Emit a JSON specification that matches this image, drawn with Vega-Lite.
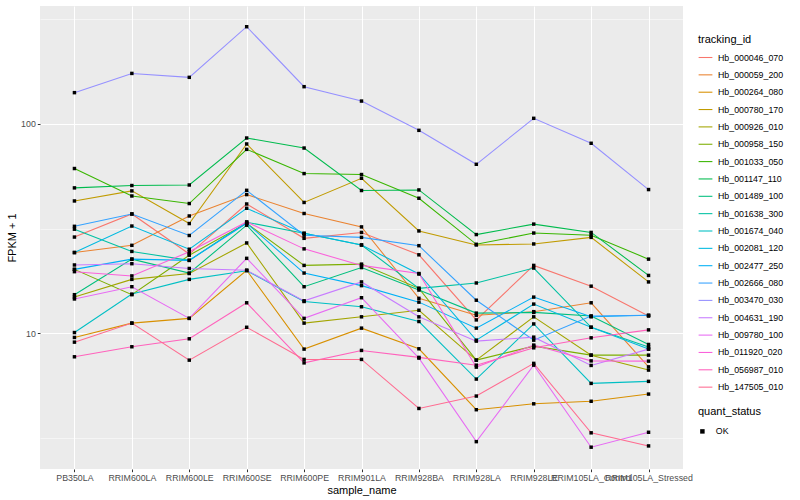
{
"$schema": "https://vega.github.io/schema/vega-lite/v6.json",
"width": 643, "height": 463,
"autosize": {"type": "none"},
"padding": {"left": 40, "top": 6, "right": 117, "bottom": 31},
"background": "white",
"config": {"view": {"fill": "#EBEBEB", "stroke": null}, "font": "Liberation Sans"},
"datasets": {"d": [
{"tracking_id":"Hb_000046_070","sample_name":"PB350LA","fpkm":28.8,"quant_status":"OK"},
{"tracking_id":"Hb_000046_070","sample_name":"RRIM600LA","fpkm":37.1,"quant_status":"OK"},
{"tracking_id":"Hb_000046_070","sample_name":"RRIM600LE","fpkm":23.9,"quant_status":"OK"},
{"tracking_id":"Hb_000046_070","sample_name":"RRIM600SE","fpkm":41.4,"quant_status":"OK"},
{"tracking_id":"Hb_000046_070","sample_name":"RRIM600PE","fpkm":28.4,"quant_status":"OK"},
{"tracking_id":"Hb_000046_070","sample_name":"RRIM901LA","fpkm":30.3,"quant_status":"OK"},
{"tracking_id":"Hb_000046_070","sample_name":"RRIM928BA","fpkm":23.7,"quant_status":"OK"},
{"tracking_id":"Hb_000046_070","sample_name":"RRIM928LA","fpkm":11.6,"quant_status":"OK"},
{"tracking_id":"Hb_000046_070","sample_name":"RRIM928LE","fpkm":21.1,"quant_status":"OK"},
{"tracking_id":"Hb_000046_070","sample_name":"RRIM105LA_Control","fpkm":16.8,"quant_status":"OK"},
{"tracking_id":"Hb_000046_070","sample_name":"RRIM105LA_Stressed","fpkm":12.1,"quant_status":"OK"},
{"tracking_id":"Hb_000059_200","sample_name":"PB350LA","fpkm":24.3,"quant_status":"OK"},
{"tracking_id":"Hb_000059_200","sample_name":"RRIM600LA","fpkm":26.3,"quant_status":"OK"},
{"tracking_id":"Hb_000059_200","sample_name":"RRIM600LE","fpkm":36.3,"quant_status":"OK"},
{"tracking_id":"Hb_000059_200","sample_name":"RRIM600SE","fpkm":45.9,"quant_status":"OK"},
{"tracking_id":"Hb_000059_200","sample_name":"RRIM600PE","fpkm":37.3,"quant_status":"OK"},
{"tracking_id":"Hb_000059_200","sample_name":"RRIM901LA","fpkm":32.2,"quant_status":"OK"},
{"tracking_id":"Hb_000059_200","sample_name":"RRIM928BA","fpkm":14.7,"quant_status":"OK"},
{"tracking_id":"Hb_000059_200","sample_name":"RRIM928LA","fpkm":12.2,"quant_status":"OK"},
{"tracking_id":"Hb_000059_200","sample_name":"RRIM928LE","fpkm":12.7,"quant_status":"OK"},
{"tracking_id":"Hb_000059_200","sample_name":"RRIM105LA_Control","fpkm":14.0,"quant_status":"OK"},
{"tracking_id":"Hb_000059_200","sample_name":"RRIM105LA_Stressed","fpkm":6.93,"quant_status":"OK"},
{"tracking_id":"Hb_000264_080","sample_name":"PB350LA","fpkm":9.57,"quant_status":"OK"},
{"tracking_id":"Hb_000264_080","sample_name":"RRIM600LA","fpkm":11.2,"quant_status":"OK"},
{"tracking_id":"Hb_000264_080","sample_name":"RRIM600LE","fpkm":11.8,"quant_status":"OK"},
{"tracking_id":"Hb_000264_080","sample_name":"RRIM600SE","fpkm":20.0,"quant_status":"OK"},
{"tracking_id":"Hb_000264_080","sample_name":"RRIM600PE","fpkm":8.42,"quant_status":"OK"},
{"tracking_id":"Hb_000264_080","sample_name":"RRIM901LA","fpkm":10.6,"quant_status":"OK"},
{"tracking_id":"Hb_000264_080","sample_name":"RRIM928BA","fpkm":8.45,"quant_status":"OK"},
{"tracking_id":"Hb_000264_080","sample_name":"RRIM928LA","fpkm":4.33,"quant_status":"OK"},
{"tracking_id":"Hb_000264_080","sample_name":"RRIM928LE","fpkm":4.62,"quant_status":"OK"},
{"tracking_id":"Hb_000264_080","sample_name":"RRIM105LA_Control","fpkm":4.75,"quant_status":"OK"},
{"tracking_id":"Hb_000264_080","sample_name":"RRIM105LA_Stressed","fpkm":5.14,"quant_status":"OK"},
{"tracking_id":"Hb_000780_170","sample_name":"PB350LA","fpkm":42.8,"quant_status":"OK"},
{"tracking_id":"Hb_000780_170","sample_name":"RRIM600LA","fpkm":47.8,"quant_status":"OK"},
{"tracking_id":"Hb_000780_170","sample_name":"RRIM600LE","fpkm":33.4,"quant_status":"OK"},
{"tracking_id":"Hb_000780_170","sample_name":"RRIM600SE","fpkm":80.0,"quant_status":"OK"},
{"tracking_id":"Hb_000780_170","sample_name":"RRIM600PE","fpkm":42.1,"quant_status":"OK"},
{"tracking_id":"Hb_000780_170","sample_name":"RRIM901LA","fpkm":54.9,"quant_status":"OK"},
{"tracking_id":"Hb_000780_170","sample_name":"RRIM928BA","fpkm":30.8,"quant_status":"OK"},
{"tracking_id":"Hb_000780_170","sample_name":"RRIM928LA","fpkm":26.4,"quant_status":"OK"},
{"tracking_id":"Hb_000780_170","sample_name":"RRIM928LE","fpkm":26.7,"quant_status":"OK"},
{"tracking_id":"Hb_000780_170","sample_name":"RRIM105LA_Control","fpkm":28.7,"quant_status":"OK"},
{"tracking_id":"Hb_000780_170","sample_name":"RRIM105LA_Stressed","fpkm":17.6,"quant_status":"OK"},
{"tracking_id":"Hb_000926_010","sample_name":"PB350LA","fpkm":14.9,"quant_status":"OK"},
{"tracking_id":"Hb_000926_010","sample_name":"RRIM600LA","fpkm":18.1,"quant_status":"OK"},
{"tracking_id":"Hb_000926_010","sample_name":"RRIM600LE","fpkm":19.3,"quant_status":"OK"},
{"tracking_id":"Hb_000926_010","sample_name":"RRIM600SE","fpkm":27.0,"quant_status":"OK"},
{"tracking_id":"Hb_000926_010","sample_name":"RRIM600PE","fpkm":11.2,"quant_status":"OK"},
{"tracking_id":"Hb_000926_010","sample_name":"RRIM901LA","fpkm":12.0,"quant_status":"OK"},
{"tracking_id":"Hb_000926_010","sample_name":"RRIM928BA","fpkm":12.9,"quant_status":"OK"},
{"tracking_id":"Hb_000926_010","sample_name":"RRIM928LA","fpkm":7.46,"quant_status":"OK"},
{"tracking_id":"Hb_000926_010","sample_name":"RRIM928LE","fpkm":12.0,"quant_status":"OK"},
{"tracking_id":"Hb_000926_010","sample_name":"RRIM105LA_Control","fpkm":7.88,"quant_status":"OK"},
{"tracking_id":"Hb_000926_010","sample_name":"RRIM105LA_Stressed","fpkm":6.69,"quant_status":"OK"},
{"tracking_id":"Hb_000958_150","sample_name":"PB350LA","fpkm":20.2,"quant_status":"OK"},
{"tracking_id":"Hb_000958_150","sample_name":"RRIM600LA","fpkm":15.3,"quant_status":"OK"},
{"tracking_id":"Hb_000958_150","sample_name":"RRIM600LE","fpkm":23.6,"quant_status":"OK"},
{"tracking_id":"Hb_000958_150","sample_name":"RRIM600SE","fpkm":33.5,"quant_status":"OK"},
{"tracking_id":"Hb_000958_150","sample_name":"RRIM600PE","fpkm":21.1,"quant_status":"OK"},
{"tracking_id":"Hb_000958_150","sample_name":"RRIM901LA","fpkm":21.4,"quant_status":"OK"},
{"tracking_id":"Hb_000958_150","sample_name":"RRIM928BA","fpkm":16.4,"quant_status":"OK"},
{"tracking_id":"Hb_000958_150","sample_name":"RRIM928LA","fpkm":7.46,"quant_status":"OK"},
{"tracking_id":"Hb_000958_150","sample_name":"RRIM928LE","fpkm":8.7,"quant_status":"OK"},
{"tracking_id":"Hb_000958_150","sample_name":"RRIM105LA_Control","fpkm":7.88,"quant_status":"OK"},
{"tracking_id":"Hb_000958_150","sample_name":"RRIM105LA_Stressed","fpkm":7.88,"quant_status":"OK"},
{"tracking_id":"Hb_001033_050","sample_name":"PB350LA","fpkm":61.1,"quant_status":"OK"},
{"tracking_id":"Hb_001033_050","sample_name":"RRIM600LA","fpkm":45.2,"quant_status":"OK"},
{"tracking_id":"Hb_001033_050","sample_name":"RRIM600LE","fpkm":41.6,"quant_status":"OK"},
{"tracking_id":"Hb_001033_050","sample_name":"RRIM600SE","fpkm":75.4,"quant_status":"OK"},
{"tracking_id":"Hb_001033_050","sample_name":"RRIM600PE","fpkm":57.8,"quant_status":"OK"},
{"tracking_id":"Hb_001033_050","sample_name":"RRIM901LA","fpkm":57.2,"quant_status":"OK"},
{"tracking_id":"Hb_001033_050","sample_name":"RRIM928BA","fpkm":44.1,"quant_status":"OK"},
{"tracking_id":"Hb_001033_050","sample_name":"RRIM928LA","fpkm":26.6,"quant_status":"OK"},
{"tracking_id":"Hb_001033_050","sample_name":"RRIM928LE","fpkm":30.1,"quant_status":"OK"},
{"tracking_id":"Hb_001033_050","sample_name":"RRIM105LA_Control","fpkm":29.4,"quant_status":"OK"},
{"tracking_id":"Hb_001033_050","sample_name":"RRIM105LA_Stressed","fpkm":22.6,"quant_status":"OK"},
{"tracking_id":"Hb_001147_110","sample_name":"PB350LA","fpkm":49.4,"quant_status":"OK"},
{"tracking_id":"Hb_001147_110","sample_name":"RRIM600LA","fpkm":50.7,"quant_status":"OK"},
{"tracking_id":"Hb_001147_110","sample_name":"RRIM600LE","fpkm":51.0,"quant_status":"OK"},
{"tracking_id":"Hb_001147_110","sample_name":"RRIM600SE","fpkm":85.4,"quant_status":"OK"},
{"tracking_id":"Hb_001147_110","sample_name":"RRIM600PE","fpkm":76.5,"quant_status":"OK"},
{"tracking_id":"Hb_001147_110","sample_name":"RRIM901LA","fpkm":48.0,"quant_status":"OK"},
{"tracking_id":"Hb_001147_110","sample_name":"RRIM928BA","fpkm":48.3,"quant_status":"OK"},
{"tracking_id":"Hb_001147_110","sample_name":"RRIM928LA","fpkm":29.6,"quant_status":"OK"},
{"tracking_id":"Hb_001147_110","sample_name":"RRIM928LE","fpkm":33.2,"quant_status":"OK"},
{"tracking_id":"Hb_001147_110","sample_name":"RRIM105LA_Control","fpkm":30.3,"quant_status":"OK"},
{"tracking_id":"Hb_001147_110","sample_name":"RRIM105LA_Stressed","fpkm":18.9,"quant_status":"OK"},
{"tracking_id":"Hb_001489_100","sample_name":"PB350LA","fpkm":15.3,"quant_status":"OK"},
{"tracking_id":"Hb_001489_100","sample_name":"RRIM600LA","fpkm":22.6,"quant_status":"OK"},
{"tracking_id":"Hb_001489_100","sample_name":"RRIM600LE","fpkm":19.4,"quant_status":"OK"},
{"tracking_id":"Hb_001489_100","sample_name":"RRIM600SE","fpkm":32.8,"quant_status":"OK"},
{"tracking_id":"Hb_001489_100","sample_name":"RRIM600PE","fpkm":16.7,"quant_status":"OK"},
{"tracking_id":"Hb_001489_100","sample_name":"RRIM901LA","fpkm":20.6,"quant_status":"OK"},
{"tracking_id":"Hb_001489_100","sample_name":"RRIM928BA","fpkm":16.1,"quant_status":"OK"},
{"tracking_id":"Hb_001489_100","sample_name":"RRIM928LA","fpkm":12.5,"quant_status":"OK"},
{"tracking_id":"Hb_001489_100","sample_name":"RRIM928LE","fpkm":12.6,"quant_status":"OK"},
{"tracking_id":"Hb_001489_100","sample_name":"RRIM105LA_Control","fpkm":12.1,"quant_status":"OK"},
{"tracking_id":"Hb_001489_100","sample_name":"RRIM105LA_Stressed","fpkm":8.86,"quant_status":"OK"},
{"tracking_id":"Hb_001638_300","sample_name":"PB350LA","fpkm":31.4,"quant_status":"OK"},
{"tracking_id":"Hb_001638_300","sample_name":"RRIM600LA","fpkm":24.6,"quant_status":"OK"},
{"tracking_id":"Hb_001638_300","sample_name":"RRIM600LE","fpkm":22.3,"quant_status":"OK"},
{"tracking_id":"Hb_001638_300","sample_name":"RRIM600SE","fpkm":33.9,"quant_status":"OK"},
{"tracking_id":"Hb_001638_300","sample_name":"RRIM600PE","fpkm":30.0,"quant_status":"OK"},
{"tracking_id":"Hb_001638_300","sample_name":"RRIM901LA","fpkm":26.4,"quant_status":"OK"},
{"tracking_id":"Hb_001638_300","sample_name":"RRIM928BA","fpkm":16.4,"quant_status":"OK"},
{"tracking_id":"Hb_001638_300","sample_name":"RRIM928LA","fpkm":17.4,"quant_status":"OK"},
{"tracking_id":"Hb_001638_300","sample_name":"RRIM928LE","fpkm":20.5,"quant_status":"OK"},
{"tracking_id":"Hb_001638_300","sample_name":"RRIM105LA_Control","fpkm":10.7,"quant_status":"OK"},
{"tracking_id":"Hb_001638_300","sample_name":"RRIM105LA_Stressed","fpkm":8.61,"quant_status":"OK"},
{"tracking_id":"Hb_001674_040","sample_name":"PB350LA","fpkm":10.1,"quant_status":"OK"},
{"tracking_id":"Hb_001674_040","sample_name":"RRIM600LA","fpkm":15.4,"quant_status":"OK"},
{"tracking_id":"Hb_001674_040","sample_name":"RRIM600LE","fpkm":18.1,"quant_status":"OK"},
{"tracking_id":"Hb_001674_040","sample_name":"RRIM600SE","fpkm":19.9,"quant_status":"OK"},
{"tracking_id":"Hb_001674_040","sample_name":"RRIM600PE","fpkm":14.2,"quant_status":"OK"},
{"tracking_id":"Hb_001674_040","sample_name":"RRIM901LA","fpkm":13.4,"quant_status":"OK"},
{"tracking_id":"Hb_001674_040","sample_name":"RRIM928BA","fpkm":11.4,"quant_status":"OK"},
{"tracking_id":"Hb_001674_040","sample_name":"RRIM928LA","fpkm":6.06,"quant_status":"OK"},
{"tracking_id":"Hb_001674_040","sample_name":"RRIM928LE","fpkm":11.1,"quant_status":"OK"},
{"tracking_id":"Hb_001674_040","sample_name":"RRIM105LA_Control","fpkm":5.78,"quant_status":"OK"},
{"tracking_id":"Hb_001674_040","sample_name":"RRIM105LA_Stressed","fpkm":5.91,"quant_status":"OK"},
{"tracking_id":"Hb_002081_120","sample_name":"PB350LA","fpkm":24.3,"quant_status":"OK"},
{"tracking_id":"Hb_002081_120","sample_name":"RRIM600LA","fpkm":32.5,"quant_status":"OK"},
{"tracking_id":"Hb_002081_120","sample_name":"RRIM600LE","fpkm":25.2,"quant_status":"OK"},
{"tracking_id":"Hb_002081_120","sample_name":"RRIM600SE","fpkm":39.5,"quant_status":"OK"},
{"tracking_id":"Hb_002081_120","sample_name":"RRIM600PE","fpkm":30.0,"quant_status":"OK"},
{"tracking_id":"Hb_002081_120","sample_name":"RRIM901LA","fpkm":26.4,"quant_status":"OK"},
{"tracking_id":"Hb_002081_120","sample_name":"RRIM928BA","fpkm":19.2,"quant_status":"OK"},
{"tracking_id":"Hb_002081_120","sample_name":"RRIM928LA","fpkm":9.29,"quant_status":"OK"},
{"tracking_id":"Hb_002081_120","sample_name":"RRIM928LE","fpkm":13.8,"quant_status":"OK"},
{"tracking_id":"Hb_002081_120","sample_name":"RRIM105LA_Control","fpkm":10.7,"quant_status":"OK"},
{"tracking_id":"Hb_002081_120","sample_name":"RRIM105LA_Stressed","fpkm":8.42,"quant_status":"OK"},
{"tracking_id":"Hb_002477_250","sample_name":"PB350LA","fpkm":20.2,"quant_status":"OK"},
{"tracking_id":"Hb_002477_250","sample_name":"RRIM600LA","fpkm":22.6,"quant_status":"OK"},
{"tracking_id":"Hb_002477_250","sample_name":"RRIM600LE","fpkm":22.3,"quant_status":"OK"},
{"tracking_id":"Hb_002477_250","sample_name":"RRIM600SE","fpkm":33.5,"quant_status":"OK"},
{"tracking_id":"Hb_002477_250","sample_name":"RRIM600PE","fpkm":19.4,"quant_status":"OK"},
{"tracking_id":"Hb_002477_250","sample_name":"RRIM901LA","fpkm":16.9,"quant_status":"OK"},
{"tracking_id":"Hb_002477_250","sample_name":"RRIM928BA","fpkm":14.1,"quant_status":"OK"},
{"tracking_id":"Hb_002477_250","sample_name":"RRIM928LA","fpkm":10.6,"quant_status":"OK"},
{"tracking_id":"Hb_002477_250","sample_name":"RRIM928LE","fpkm":14.9,"quant_status":"OK"},
{"tracking_id":"Hb_002477_250","sample_name":"RRIM105LA_Control","fpkm":12.0,"quant_status":"OK"},
{"tracking_id":"Hb_002477_250","sample_name":"RRIM105LA_Stressed","fpkm":12.2,"quant_status":"OK"},
{"tracking_id":"Hb_002666_080","sample_name":"PB350LA","fpkm":32.4,"quant_status":"OK"},
{"tracking_id":"Hb_002666_080","sample_name":"RRIM600LA","fpkm":37.1,"quant_status":"OK"},
{"tracking_id":"Hb_002666_080","sample_name":"RRIM600LE","fpkm":29.3,"quant_status":"OK"},
{"tracking_id":"Hb_002666_080","sample_name":"RRIM600SE","fpkm":48.1,"quant_status":"OK"},
{"tracking_id":"Hb_002666_080","sample_name":"RRIM600PE","fpkm":29.4,"quant_status":"OK"},
{"tracking_id":"Hb_002666_080","sample_name":"RRIM901LA","fpkm":28.7,"quant_status":"OK"},
{"tracking_id":"Hb_002666_080","sample_name":"RRIM928BA","fpkm":26.2,"quant_status":"OK"},
{"tracking_id":"Hb_002666_080","sample_name":"RRIM928LA","fpkm":14.4,"quant_status":"OK"},
{"tracking_id":"Hb_002666_080","sample_name":"RRIM928LE","fpkm":9.29,"quant_status":"OK"},
{"tracking_id":"Hb_002666_080","sample_name":"RRIM105LA_Control","fpkm":12.1,"quant_status":"OK"},
{"tracking_id":"Hb_002666_080","sample_name":"RRIM105LA_Stressed","fpkm":12.2,"quant_status":"OK"},
{"tracking_id":"Hb_003470_030","sample_name":"PB350LA","fpkm":140.5,"quant_status":"OK"},
{"tracking_id":"Hb_003470_030","sample_name":"RRIM600LA","fpkm":173.5,"quant_status":"OK"},
{"tracking_id":"Hb_003470_030","sample_name":"RRIM600LE","fpkm":166.2,"quant_status":"OK"},
{"tracking_id":"Hb_003470_030","sample_name":"RRIM600SE","fpkm":289.7,"quant_status":"OK"},
{"tracking_id":"Hb_003470_030","sample_name":"RRIM600PE","fpkm":150.0,"quant_status":"OK"},
{"tracking_id":"Hb_003470_030","sample_name":"RRIM901LA","fpkm":128.1,"quant_status":"OK"},
{"tracking_id":"Hb_003470_030","sample_name":"RRIM928BA","fpkm":92.9,"quant_status":"OK"},
{"tracking_id":"Hb_003470_030","sample_name":"RRIM928LA","fpkm":64.0,"quant_status":"OK"},
{"tracking_id":"Hb_003470_030","sample_name":"RRIM928LE","fpkm":106.0,"quant_status":"OK"},
{"tracking_id":"Hb_003470_030","sample_name":"RRIM105LA_Control","fpkm":80.6,"quant_status":"OK"},
{"tracking_id":"Hb_003470_030","sample_name":"RRIM105LA_Stressed","fpkm":48.5,"quant_status":"OK"},
{"tracking_id":"Hb_004631_190","sample_name":"PB350LA","fpkm":21.2,"quant_status":"OK"},
{"tracking_id":"Hb_004631_190","sample_name":"RRIM600LA","fpkm":21.5,"quant_status":"OK"},
{"tracking_id":"Hb_004631_190","sample_name":"RRIM600LE","fpkm":20.4,"quant_status":"OK"},
{"tracking_id":"Hb_004631_190","sample_name":"RRIM600SE","fpkm":20.0,"quant_status":"OK"},
{"tracking_id":"Hb_004631_190","sample_name":"RRIM600PE","fpkm":14.3,"quant_status":"OK"},
{"tracking_id":"Hb_004631_190","sample_name":"RRIM901LA","fpkm":17.6,"quant_status":"OK"},
{"tracking_id":"Hb_004631_190","sample_name":"RRIM928BA","fpkm":12.0,"quant_status":"OK"},
{"tracking_id":"Hb_004631_190","sample_name":"RRIM928LA","fpkm":9.19,"quant_status":"OK"},
{"tracking_id":"Hb_004631_190","sample_name":"RRIM928LE","fpkm":9.6,"quant_status":"OK"},
{"tracking_id":"Hb_004631_190","sample_name":"RRIM105LA_Control","fpkm":7.04,"quant_status":"OK"},
{"tracking_id":"Hb_004631_190","sample_name":"RRIM105LA_Stressed","fpkm":8.42,"quant_status":"OK"},
{"tracking_id":"Hb_009780_100","sample_name":"PB350LA","fpkm":14.6,"quant_status":"OK"},
{"tracking_id":"Hb_009780_100","sample_name":"RRIM600LA","fpkm":16.7,"quant_status":"OK"},
{"tracking_id":"Hb_009780_100","sample_name":"RRIM600LE","fpkm":11.8,"quant_status":"OK"},
{"tracking_id":"Hb_009780_100","sample_name":"RRIM600SE","fpkm":22.8,"quant_status":"OK"},
{"tracking_id":"Hb_009780_100","sample_name":"RRIM600PE","fpkm":11.8,"quant_status":"OK"},
{"tracking_id":"Hb_009780_100","sample_name":"RRIM901LA","fpkm":14.8,"quant_status":"OK"},
{"tracking_id":"Hb_009780_100","sample_name":"RRIM928BA","fpkm":7.63,"quant_status":"OK"},
{"tracking_id":"Hb_009780_100","sample_name":"RRIM928LA","fpkm":3.05,"quant_status":"OK"},
{"tracking_id":"Hb_009780_100","sample_name":"RRIM928LE","fpkm":7.06,"quant_status":"OK"},
{"tracking_id":"Hb_009780_100","sample_name":"RRIM105LA_Control","fpkm":2.87,"quant_status":"OK"},
{"tracking_id":"Hb_009780_100","sample_name":"RRIM105LA_Stressed","fpkm":3.38,"quant_status":"OK"},
{"tracking_id":"Hb_011920_020","sample_name":"PB350LA","fpkm":19.7,"quant_status":"OK"},
{"tracking_id":"Hb_011920_020","sample_name":"RRIM600LA","fpkm":18.8,"quant_status":"OK"},
{"tracking_id":"Hb_011920_020","sample_name":"RRIM600LE","fpkm":24.5,"quant_status":"OK"},
{"tracking_id":"Hb_011920_020","sample_name":"RRIM600SE","fpkm":34.0,"quant_status":"OK"},
{"tracking_id":"Hb_011920_020","sample_name":"RRIM600PE","fpkm":25.3,"quant_status":"OK"},
{"tracking_id":"Hb_011920_020","sample_name":"RRIM901LA","fpkm":21.1,"quant_status":"OK"},
{"tracking_id":"Hb_011920_020","sample_name":"RRIM928BA","fpkm":19.3,"quant_status":"OK"},
{"tracking_id":"Hb_011920_020","sample_name":"RRIM928LA","fpkm":6.91,"quant_status":"OK"},
{"tracking_id":"Hb_011920_020","sample_name":"RRIM928LE","fpkm":8.8,"quant_status":"OK"},
{"tracking_id":"Hb_011920_020","sample_name":"RRIM105LA_Control","fpkm":7.4,"quant_status":"OK"},
{"tracking_id":"Hb_011920_020","sample_name":"RRIM105LA_Stressed","fpkm":7.38,"quant_status":"OK"},
{"tracking_id":"Hb_056987_010","sample_name":"PB350LA","fpkm":7.74,"quant_status":"OK"},
{"tracking_id":"Hb_056987_010","sample_name":"RRIM600LA","fpkm":8.64,"quant_status":"OK"},
{"tracking_id":"Hb_056987_010","sample_name":"RRIM600LE","fpkm":9.43,"quant_status":"OK"},
{"tracking_id":"Hb_056987_010","sample_name":"RRIM600SE","fpkm":14.0,"quant_status":"OK"},
{"tracking_id":"Hb_056987_010","sample_name":"RRIM600PE","fpkm":7.24,"quant_status":"OK"},
{"tracking_id":"Hb_056987_010","sample_name":"RRIM901LA","fpkm":8.3,"quant_status":"OK"},
{"tracking_id":"Hb_056987_010","sample_name":"RRIM928BA","fpkm":7.69,"quant_status":"OK"},
{"tracking_id":"Hb_056987_010","sample_name":"RRIM928LA","fpkm":7.06,"quant_status":"OK"},
{"tracking_id":"Hb_056987_010","sample_name":"RRIM928LE","fpkm":8.54,"quant_status":"OK"},
{"tracking_id":"Hb_056987_010","sample_name":"RRIM105LA_Control","fpkm":9.53,"quant_status":"OK"},
{"tracking_id":"Hb_056987_010","sample_name":"RRIM105LA_Stressed","fpkm":10.4,"quant_status":"OK"},
{"tracking_id":"Hb_147505_010","sample_name":"PB350LA","fpkm":9.09,"quant_status":"OK"},
{"tracking_id":"Hb_147505_010","sample_name":"RRIM600LA","fpkm":11.2,"quant_status":"OK"},
{"tracking_id":"Hb_147505_010","sample_name":"RRIM600LE","fpkm":7.46,"quant_status":"OK"},
{"tracking_id":"Hb_147505_010","sample_name":"RRIM600SE","fpkm":10.7,"quant_status":"OK"},
{"tracking_id":"Hb_147505_010","sample_name":"RRIM600PE","fpkm":7.52,"quant_status":"OK"},
{"tracking_id":"Hb_147505_010","sample_name":"RRIM901LA","fpkm":7.52,"quant_status":"OK"},
{"tracking_id":"Hb_147505_010","sample_name":"RRIM928BA","fpkm":4.39,"quant_status":"OK"},
{"tracking_id":"Hb_147505_010","sample_name":"RRIM928LA","fpkm":5.03,"quant_status":"OK"},
{"tracking_id":"Hb_147505_010","sample_name":"RRIM928LE","fpkm":7.2,"quant_status":"OK"},
{"tracking_id":"Hb_147505_010","sample_name":"RRIM105LA_Control","fpkm":3.36,"quant_status":"OK"},
{"tracking_id":"Hb_147505_010","sample_name":"RRIM105LA_Stressed","fpkm":2.91,"quant_status":"OK"}
]},
"data": {"name": "d"},
"encoding": {
  "x": {"field": "sample_name", "type": "ordinal",
    "sort": ["PB350LA","RRIM600LA","RRIM600LE","RRIM600SE","RRIM600PE","RRIM901LA","RRIM928BA","RRIM928LA","RRIM928LE","RRIM105LA_Control","RRIM105LA_Stressed"],
    "scale": {"type": "point", "padding": 0.6},
    "axis": {"title": "sample_name", "labelAngle": 0, "labelFontSize": 8.8, "labelColor": "#4D4D4D", "labelOverlap": false, "labelPadding": 2, "tickColor": "#333333", "tickSize": 2.7, "domain": false, "grid": true, "gridColor": "white", "gridWidth": 1.07, "titleFontSize": 11, "titleFontWeight": "normal", "titleColor": "black", "titlePadding": 2}},
  "y": {"field": "fpkm", "type": "quantitative",
    "scale": {"type": "log", "domain": [2.259, 363.6], "nice": false, "zero": false}}
},
"layer": [
  {"mark": {"type": "line", "strokeWidth": 1.07},
   "encoding": {
     "y": {"field": "fpkm", "type": "quantitative", "axis": {"orient": "left", "values": [10, 100], "format": "d", "title": "FPKM + 1", "labelFontSize": 8.8, "labelColor": "#4D4D4D", "labelPadding": 2, "tickColor": "#333333", "tickSize": 2.7, "domain": false, "grid": true, "gridColor": "white", "gridWidth": 1.07, "titleFontSize": 11, "titleFontWeight": "normal", "titleColor": "black", "titlePadding": 3}},
     "color": {"field": "tracking_id", "type": "nominal",
       "scale": {"domain": ["Hb_000046_070","Hb_000059_200","Hb_000264_080","Hb_000780_170","Hb_000926_010","Hb_000958_150","Hb_001033_050","Hb_001147_110","Hb_001489_100","Hb_001638_300","Hb_001674_040","Hb_002081_120","Hb_002477_250","Hb_002666_080","Hb_003470_030","Hb_004631_190","Hb_009780_100","Hb_011920_020","Hb_056987_010","Hb_147505_010"],
         "range": ["#F8766D","#EA8331","#D89000","#C09B00","#A3A500","#7CAE00","#39B600","#00BB4E","#00BF7D","#00C1A3","#00BFC4","#00BAE0","#00B0F6","#35A2FF","#9590FF","#C77CFF","#E76BF3","#FA62DB","#FF62BC","#FF6C91"]},
       "legend": {"title": "tracking_id", "orient": "none", "legendX": 658, "legendY": 28, "symbolType": "stroke", "symbolSize": 190, "symbolStrokeWidth": 1.07, "labelFontSize": 8.8, "labelColor": "black", "labelOffset": 5, "rowPadding": 4.35, "titleFontSize": 11, "titleFontWeight": "normal", "titleColor": "black", "titlePadding": 5}}
   }},
  {"mark": {"type": "point", "filled": true, "color": "black", "opacity": 1, "size": 12},
   "encoding": {
     "y": {"field": "fpkm", "type": "quantitative", "axis": {"orient": "left", "values": [3.1623, 31.623, 316.23], "grid": true, "gridColor": "white", "gridWidth": 0.53, "labels": false, "ticks": false, "domain": false, "title": null}},
     "shape": {"field": "quant_status", "type": "nominal", "scale": {"range": ["square"]},
       "legend": {"title": "quant_status", "orient": "none", "legendX": 658, "legendY": 400, "symbolSize": 20, "symbolFillColor": "black", "labelFontSize": 8.8, "labelColor": "black", "labelOffset": 9, "titleFontSize": 11, "titleFontWeight": "normal", "titleColor": "black", "titlePadding": 10}}
   }}
],
"resolve": {"axis": {"y": "independent"}}
}
